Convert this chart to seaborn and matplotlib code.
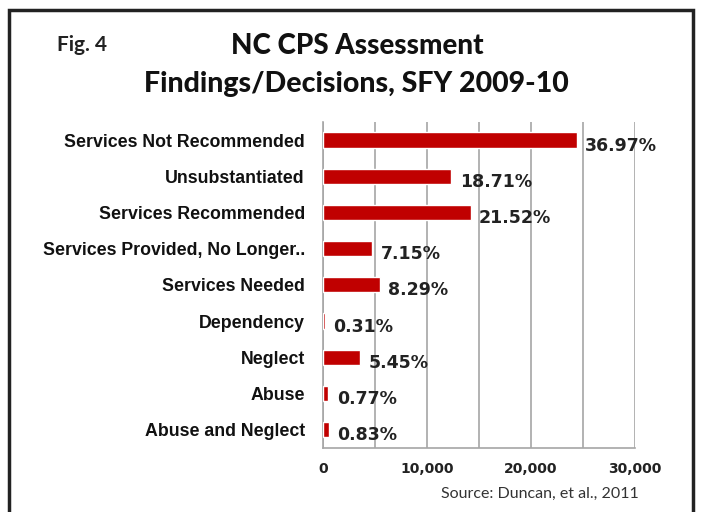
import matplotlib
matplotlib.use("Agg")
import matplotlib.pyplot as plt
import seaborn as sns
import pandas as pd
import numpy as np
from matplotlib.patches import Rectangle
from matplotlib.ticker import FixedLocator, FuncFormatter

categories = ["Services Not Recommended", "Unsubstantiated", "Services Recommended",
              "Services Provided, No Longer..", "Services Needed", "Dependency",
              "Neglect", "Abuse", "Abuse and Neglect"]
counts = [24400, 12350, 14200, 4720, 5470, 205, 3600, 510, 550]
pct_labels = ["36.97%", "18.71%", "21.52%", "7.15%", "8.29%", "0.31%", "5.45%", "0.77%", "0.83%"]
x_ticks = [0, 10000, 20000, 30000]

df = pd.DataFrame({"category": categories, "count": counts})

sns.set_style("white")
fig = plt.figure(figsize=(7.03, 5.12), dpi=100)
ax = fig.add_axes([323/703, 1-447.7/512, (635-323)/703, (447.7-122)/512])

sns.barplot(data=df, x="count", y="category", orient="h", color="#c00000",
            width=0.42, ax=ax, saturation=1, zorder=3)

ax.set_xlim(0, 30000)
ax.set_ylim(len(categories) - 0.5, -0.5)
ax.set_xlabel("")
ax.set_ylabel("")

# gridlines every 5000
ax.xaxis.set_major_locator(FixedLocator(x_ticks))
ax.xaxis.set_minor_locator(FixedLocator([5000, 15000, 25000]))
ax.xaxis.set_major_formatter(FuncFormatter(lambda v, p: f"{int(v):,}"))
ax.grid(True, axis="x", which="both", color="#a6a6a6", linewidth=1.2, zorder=0)
ax.tick_params(axis="x", which="both", length=4, color="#a6a6a6", width=1, direction="out",
               pad=6)
for lbl in ax.get_xticklabels():
    lbl.set_fontfamily("DejaVu Sans")
    lbl.set_fontweight("bold")
    lbl.set_fontsize(10)
    lbl.set_color("#222222")

ax.yaxis.set_minor_locator(FixedLocator(np.arange(-0.5, len(categories) + 0.5, 1.0)))
ax.tick_params(axis="y", which="major", length=0, pad=13)
ax.tick_params(axis="y", which="minor", length=4, color="#a6a6a6", width=1)
for lbl in ax.get_yticklabels():
    lbl.set_fontfamily("Liberation Sans")
    lbl.set_fontweight("bold")
    lbl.set_fontsize(12.8)
    lbl.set_color("#111111")

for side in ["top", "right"]:
    ax.spines[side].set_visible(False)
for side in ["left", "bottom"]:
    ax.spines[side].set_color("#a6a6a6")
    ax.spines[side].set_linewidth(1.2)

for i, (v, t) in enumerate(zip(counts, pct_labels)):
    ax.annotate(t, xy=(v, i), xytext=(6, -4), textcoords="offset points",
                ha="left", va="center", fontsize=12.5, fontweight="bold",
                fontfamily="DejaVu Sans", color="#222222")

# titles
fig.text(82/703, 1-45/512, "Fig. 4", ha="center", va="center", fontsize=15,
         fontweight="bold", fontfamily="Lato", color="#222222")
fig.text(357/703, 1-46/512, "NC CPS Assessment", ha="center", va="center", fontsize=20,
         fontweight="black", fontfamily="Lato", color="#111111")
fig.text(356/703, 1-84/512, "Findings/Decisions, SFY 2009-10", ha="center", va="center",
         fontsize=20.5, fontweight="black", fontfamily="Lato", color="#111111")
fig.text(540/703, 1-494/512, "Source: Duncan, et al., 2011", ha="center", va="center",
         fontsize=11.5, fontfamily="Lato", color="#333333")

# outer border (bottom edge runs off the image)
fig.patches.append(Rectangle((9/703, -0.1), (693-9)/703, 1.1 - 10/512,
                             transform=fig.transFigure, fill=False,
                             edgecolor="#222222", linewidth=2.5))

fig.savefig("out.png", dpi=100)
